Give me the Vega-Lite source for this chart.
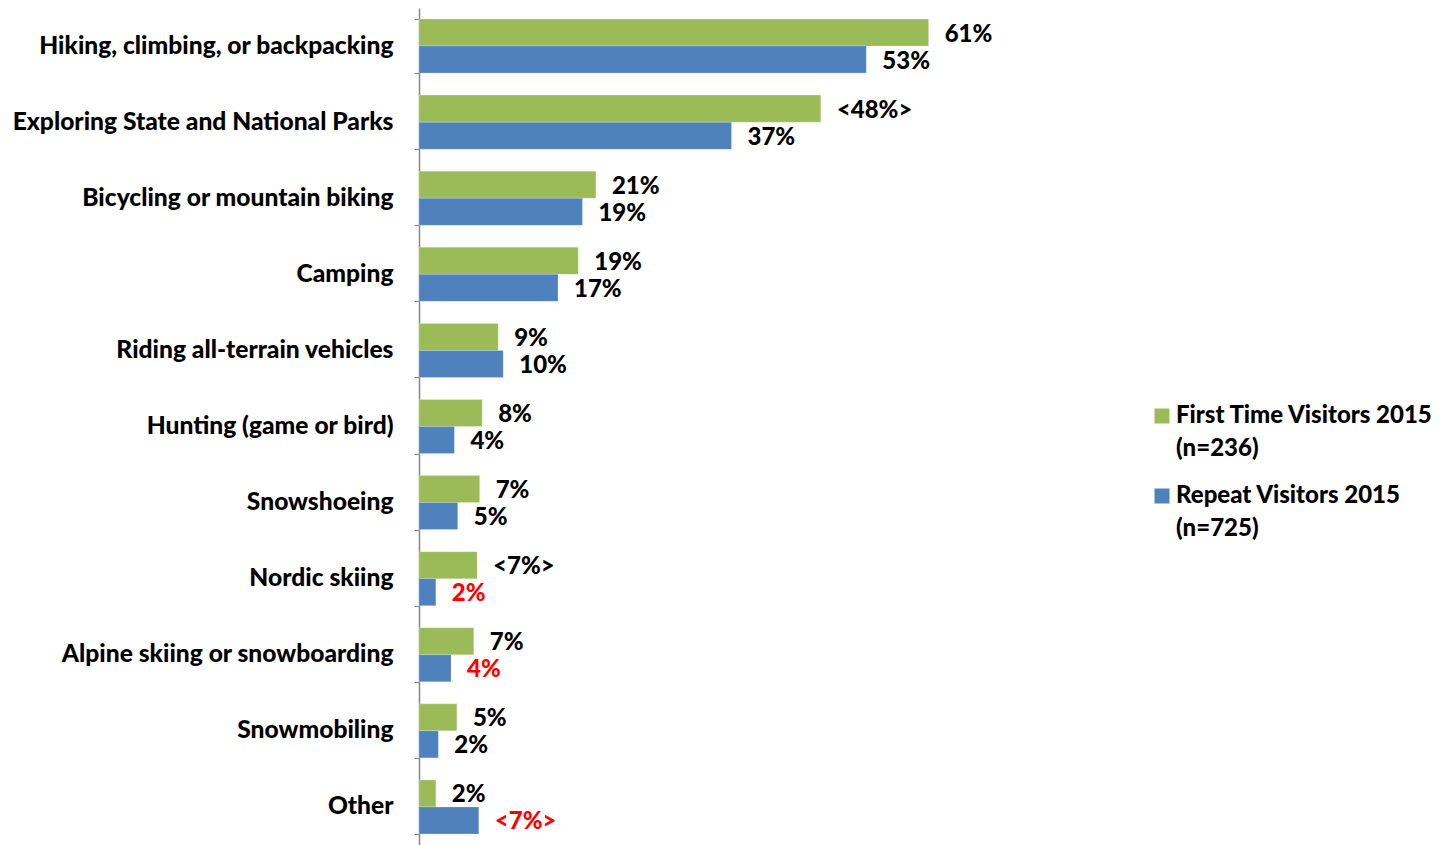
{
  "$schema": "https://vega.github.io/schema/vega-lite/v6.json",
  "width": 700,
  "height": 837,
  "autosize": "none",
  "padding": {"left": 419, "top": 8, "right": 328, "bottom": 0},
  "background": "white",
  "config": {"view": {"stroke": null}, "font": "Lato", "style": {"guide-label": {"lineHeight": 33}}},
  "data": {
    "values": [
      {"category": "Hiking, climbing, or backpacking", "series": "First Time Visitors 2015 (n=236)", "value": 60.5, "label": "61%", "flag": "normal"},
      {"category": "Hiking, climbing, or backpacking", "series": "Repeat Visitors 2015 (n=725)", "value": 53.1, "label": "53%", "flag": "normal"},
      {"category": "Exploring State and National Parks", "series": "First Time Visitors 2015 (n=236)", "value": 47.7, "label": "<48%>", "flag": "normal"},
      {"category": "Exploring State and National Parks", "series": "Repeat Visitors 2015 (n=725)", "value": 37.1, "label": "37%", "flag": "normal"},
      {"category": "Bicycling or mountain biking", "series": "First Time Visitors 2015 (n=236)", "value": 21.0, "label": "21%", "flag": "normal"},
      {"category": "Bicycling or mountain biking", "series": "Repeat Visitors 2015 (n=725)", "value": 19.4, "label": "19%", "flag": "normal"},
      {"category": "Camping", "series": "First Time Visitors 2015 (n=236)", "value": 18.9, "label": "19%", "flag": "normal"},
      {"category": "Camping", "series": "Repeat Visitors 2015 (n=725)", "value": 16.5, "label": "17%", "flag": "normal"},
      {"category": "Riding all-terrain vehicles", "series": "First Time Visitors 2015 (n=236)", "value": 9.4, "label": "9%", "flag": "normal"},
      {"category": "Riding all-terrain vehicles", "series": "Repeat Visitors 2015 (n=725)", "value": 10.0, "label": "10%", "flag": "normal"},
      {"category": "Hunting (game or bird)", "series": "First Time Visitors 2015 (n=236)", "value": 7.5, "label": "8%", "flag": "normal"},
      {"category": "Hunting (game or bird)", "series": "Repeat Visitors 2015 (n=725)", "value": 4.2, "label": "4%", "flag": "normal"},
      {"category": "Snowshoeing", "series": "First Time Visitors 2015 (n=236)", "value": 7.2, "label": "7%", "flag": "normal"},
      {"category": "Snowshoeing", "series": "Repeat Visitors 2015 (n=725)", "value": 4.6, "label": "5%", "flag": "normal"},
      {"category": "Nordic skiing", "series": "First Time Visitors 2015 (n=236)", "value": 6.9, "label": "<7%>", "flag": "normal"},
      {"category": "Nordic skiing", "series": "Repeat Visitors 2015 (n=725)", "value": 2.0, "label": "2%", "flag": "significant"},
      {"category": "Alpine skiing or snowboarding", "series": "First Time Visitors 2015 (n=236)", "value": 6.5, "label": "7%", "flag": "normal"},
      {"category": "Alpine skiing or snowboarding", "series": "Repeat Visitors 2015 (n=725)", "value": 3.8, "label": "4%", "flag": "significant"},
      {"category": "Snowmobiling", "series": "First Time Visitors 2015 (n=236)", "value": 4.5, "label": "5%", "flag": "normal"},
      {"category": "Snowmobiling", "series": "Repeat Visitors 2015 (n=725)", "value": 2.3, "label": "2%", "flag": "normal"},
      {"category": "Other", "series": "First Time Visitors 2015 (n=236)", "value": 2.0, "label": "2%", "flag": "normal"},
      {"category": "Other", "series": "Repeat Visitors 2015 (n=725)", "value": 7.1, "label": "<7%>", "flag": "significant"}
    ]
  },
  "encoding": {
    "y": {
      "field": "category",
      "type": "nominal",
      "sort": null,
      "scale": {"paddingInner": 0.29, "paddingOuter": 0.145},
      "axis": {
        "title": null,
        "labelFont": "Lato",
        "labelFontWeight": 900,
        "labelFontSize": 24.6,
        "labelColor": "black",
        "labelLimit": 0,
        "labelPadding": 21,
        "tickBand": "extent",
        "tickSize": 5,
        "tickColor": "#868686",
        "domainColor": "#868686",
        "domainWidth": 1.5,
        "grid": false
      }
    },
    "yOffset": {
      "field": "series",
      "type": "nominal",
      "sort": null,
      "scale": {"paddingInner": 0, "paddingOuter": 0}
    },
    "x": {
      "field": "value",
      "type": "quantitative",
      "scale": {"domain": [0, 83.1], "nice": false, "zero": true},
      "axis": null
    }
  },
  "layer": [
    {
      "mark": {"type": "bar", "stroke": "white", "strokeOpacity": 0.4, "strokeWidth": 0.5},
      "encoding": {
        "color": {
          "field": "series",
          "type": "nominal",
          "sort": null,
          "scale": {"domain": ["First Time Visitors 2015 (n=236)", "Repeat Visitors 2015 (n=725)"], "range": ["#9BBB59", "#4F81BD"]},
          "legend": {
            "title": null,
            "orient": "none",
            "legendX": 731,
            "legendY": 396,
            "padding": 0,
            "symbolType": "square",
            "symbolSize": 225,
            "symbolStrokeWidth": 0,
            "labelFont": "Lato",
            "labelFontWeight": 900,
            "labelFontSize": 24,
            "labelColor": "black",
            "labelLimit": 0,
            "labelOffset": 2,
            "rowPadding": 23,
            "labelExpr": "[slice(datum.label, 0, indexof(datum.label, ' (')), slice(datum.label, indexof(datum.label, ' (') + 1)]"
          }
        }
      }
    },
    {
      "mark": {"type": "text", "align": "left", "baseline": "middle", "dx": 16, "dy": 2, "font": "Lato", "fontWeight": 900, "fontSize": 24},
      "encoding": {
        "text": {"field": "label"},
        "color": {
          "field": "flag",
          "type": "nominal",
          "scale": {"domain": ["normal", "significant"], "range": ["black", "#FF0000"]},
          "legend": null
        }
      }
    }
  ],
  "resolve": {"scale": {"color": "independent"}, "legend": {"color": "independent"}}
}
